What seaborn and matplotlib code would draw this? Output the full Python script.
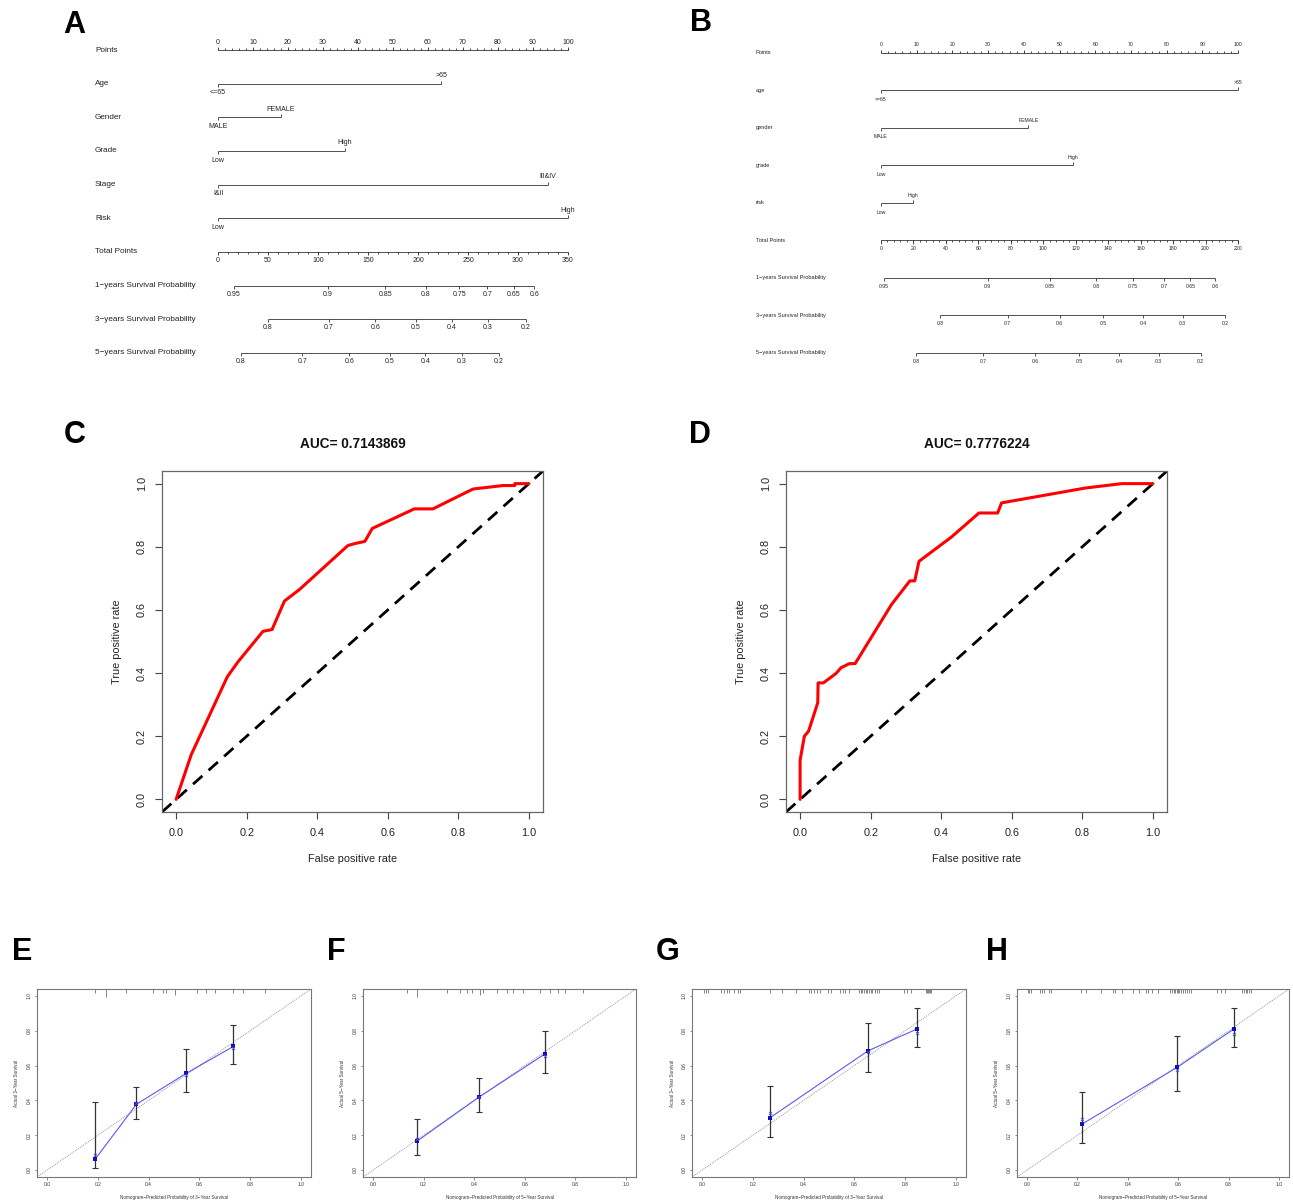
import numpy as np
import pandas as pd
import matplotlib
matplotlib.use("Agg")
import matplotlib.pyplot as plt
import seaborn as sns

W, H = 1293, 1201

# ---------------- DATA ----------------
# Nomogram A
a_vars = ["Age", "Gender", "Grade", "Stage", "Risk"]
a_low_labels = ["<=65", "MALE", "Low", "I&II", "Low"]
a_high_labels = [">65", "FEMALE", "High", "III&IV", "High"]
a_high_points = [63.8, 17.9, 36.3, 94.3, 100.0]
a_total_max = 350
a_total_ticks = [0, 50, 100, 150, 200, 250, 300, 350]
a_surv_names = ["1\u2212years Survival Probability", "3\u2212years Survival Probability",
                "5\u2212years Survival Probability"]
a_surv1_labels = ["0.95", "0.9", "0.85", "0.8", "0.75", "0.7", "0.65", "0.6"]
a_surv1_tp = [16.1, 110.1, 167.3, 208.0, 241.4, 269.4, 295.5, 316.2]
a_surv3_labels = ["0.8", "0.7", "0.6", "0.5", "0.4", "0.3", "0.2"]
a_surv3_tp = [49.5, 110.9, 157.3, 197.6, 234.1, 269.8, 307.8]
a_surv5_labels = ["0.8", "0.7", "0.6", "0.5", "0.4", "0.3", "0.2"]
a_surv5_tp = [23.0, 84.4, 131.2, 171.5, 207.2, 243.7, 280.9]

# Nomogram B
b_vars = ["age", "gender", "grade", "risk"]
b_low_labels = ["<=65", "MALE", "Low", "Low"]
b_high_labels = [">65", "FEMALE", "High", "High"]
b_high_points = [100.0, 41.3, 53.7, 9.1]
b_total_max = 220
b_total_ticks = [0, 20, 40, 60, 80, 100, 120, 140, 160, 180, 200, 220]
b_surv_names = ["1\u2212years Survival Probability", "3\u2212years Survival Probability",
                "5\u2212years Survival Probability"]
b_surv1_labels = ["0.95", "0.9", "0.85", "0.8", "0.75", "0.7", "0.65", "0.6"]
b_surv1_tp = [1.7, 65.7, 104.1, 132.5, 155.0, 174.5, 190.6, 205.8]
b_surv3_labels = ["0.8", "0.7", "0.6", "0.5", "0.4", "0.3", "0.2"]
b_surv3_tp = [36.5, 78.0, 110.0, 136.8, 161.7, 185.9, 211.9]
b_surv5_labels = ["0.8", "0.7", "0.6", "0.5", "0.4", "0.3", "0.2"]
b_surv5_tp = [21.6, 63.1, 95.1, 122.3, 146.7, 171.2, 197.0]

points_major = [0, 10, 20, 30, 40, 50, 60, 70, 80, 90, 100]

# ROC C
c_fpr = [0.0, 0.043, 0.145, 0.175, 0.246, 0.272, 0.307, 0.350, 0.487, 0.506, 0.535,
         0.556, 0.675, 0.728, 0.800, 0.842, 0.927, 0.960, 0.960, 1.0]
c_tpr = [0.0, 0.142, 0.388, 0.435, 0.532, 0.538, 0.628, 0.665, 0.804, 0.810, 0.817,
         0.858, 0.920, 0.920, 0.960, 0.983, 0.994, 0.994, 1.0, 1.0]
c_auc = "AUC= 0.7143869"
# ROC D
d_fpr = [0.0, 0.0, 0.012, 0.024, 0.050, 0.051, 0.066, 0.102, 0.116, 0.140, 0.156,
         0.259, 0.311, 0.325, 0.337, 0.429, 0.507, 0.560, 0.571, 0.808, 0.912, 1.0]
d_tpr = [0.0, 0.124, 0.200, 0.216, 0.306, 0.369, 0.369, 0.399, 0.417, 0.430, 0.430,
         0.617, 0.692, 0.692, 0.754, 0.831, 0.907, 0.907, 0.939, 0.986, 1.0, 1.0]
d_auc = "AUC= 0.7776224"
roc_ticks = [0.0, 0.2, 0.4, 0.6, 0.8, 1.0]
roc_tick_labels = ["0.0", "0.2", "0.4", "0.6", "0.8", "1.0"]

# Calibration E (3-year, training)
e_pred = [0.190, 0.352, 0.549, 0.734]
e_obs = [0.064, 0.378, 0.556, 0.710]
e_corr = [0.089, 0.385, 0.548, 0.700]
e_lo = [0.012, 0.295, 0.450, 0.608]
e_hi = [0.392, 0.475, 0.695, 0.832]
e_rug = [0.190, 0.233, 0.312, 0.418, 0.457, 0.470, 0.503, 0.589, 0.628, 0.661, 0.734, 0.773, 0.859]
e_rug_n = [1, 2, 1, 1, 1, 1, 1.5, 1, 1, 1, 1, 1, 1]
# Calibration F (5-year, training)
f_pred = [0.172, 0.417, 0.679]
f_obs = [0.164, 0.417, 0.666]
f_corr = [0.178, 0.420, 0.655]
f_lo = [0.089, 0.334, 0.560]
f_hi = [0.293, 0.531, 0.797]
f_rug = [0.135, 0.174, 0.292, 0.342, 0.371, 0.391, 0.421, 0.436, 0.489, 0.528, 0.554,
         0.594, 0.659, 0.699, 0.731, 0.758, 0.830]
f_rug_n = [1, 2, 1, 1, 1, 1, 1.5, 1, 1, 1, 1, 1, 1, 1, 1, 1, 1]
# Calibration G (3-year, validation)
g_pred = [0.268, 0.654, 0.848]
g_obs = [0.301, 0.685, 0.811]
g_corr = [0.330, 0.680, 0.788]
g_lo = [0.189, 0.562, 0.707]
g_hi = [0.485, 0.844, 0.931]
g_rug = [0.008, 0.017, 0.024, 0.074, 0.087, 0.096, 0.106, 0.127, 0.140, 0.149, 0.268, 0.314,
         0.369, 0.420, 0.430, 0.439, 0.453, 0.466, 0.496, 0.509, 0.545, 0.554, 0.565, 0.578,
         0.620, 0.626, 0.631, 0.637, 0.644, 0.650, 0.657, 0.664, 0.671, 0.680, 0.689, 0.697,
         0.796, 0.809, 0.822, 0.881, 0.885, 0.889, 0.893, 0.897, 0.901]
g_rug_n = [1] * 45
# Calibration H (5-year, validation)
h_pred = [0.217, 0.597, 0.822]
h_obs = [0.263, 0.591, 0.811]
h_corr = [0.292, 0.575, 0.782]
h_lo = [0.156, 0.452, 0.707]
h_hi = [0.450, 0.772, 0.931]
h_rug = [0.003, 0.009, 0.016, 0.052, 0.059, 0.069, 0.086, 0.095, 0.214, 0.234, 0.293, 0.340,
         0.350, 0.376, 0.419, 0.445, 0.472, 0.482, 0.498, 0.518, 0.567, 0.575, 0.583, 0.588,
         0.594, 0.599, 0.604, 0.611, 0.618, 0.626, 0.634, 0.642, 0.650, 0.756, 0.769, 0.786,
         0.855, 0.862, 0.868, 0.875, 0.882, 0.888]
h_rug_n = [1] * 42
calib_ticks = [0.0, 0.2, 0.4, 0.6, 0.8, 1.0]
calib_tick_labels = ["0.0", "0.2", "0.4", "0.6", "0.8", "1.0"]

# ---------------- STYLE ----------------
sns.set_theme(style="white")
plt.rcParams["font.family"] = ["Liberation Sans", "DejaVu Sans"]
plt.rcParams["text.color"] = "#111111"

fig = plt.figure(figsize=(W / 100, H / 100), dpi=100)
fig.patch.set_facecolor("white")


def px_rect(l, t, r, b):
    return [l / W, 1 - b / H, (r - l) / W, (b - t) / H]


LINE_C = "#333333"


def nomogram(x0, x1, y0, yN, var_names, lows, highs, high_pts, total_max, total_ticks,
             total_minor, surv_names, surv_labels, surv_tps, label_x_px, fs_lab, fs_tick, family):
    nvars = len(var_names)
    N = 1 + nvars + len(surv_names)
    ax = fig.add_axes(px_rect(x0, y0, x1, yN))
    ax.set_xlim(0, 100)
    ax.set_ylim(N, 0)
    ax.axis("off")
    sp = (yN - y0) / N
    ppx = 100 / (x1 - x0)

    def r(px):
        return px / sp

    lab_x = (label_x_px - x0) * ppx
    kw = dict(color=LINE_C, lw=0.6, clip_on=False)
    tkw = dict(fontsize=fs_tick, family=family, ha="center", va="center", clip_on=False,
               color="#222222")
    names = ["Points"] + list(var_names) + ["Total Points"] + list(surv_names)
    for i, nm in enumerate(names):
        ax.text(lab_x, i, nm, fontsize=fs_lab, family=family, ha="left", va="center",
                color="#222222")
    # Points scale
    ax.hlines(0, 0, 100, **kw)
    ax.vlines(points_major, 0, -r(3.2), **kw)
    ax.vlines(np.arange(0, 101, 2), 0, -r(2.0), **kw)
    for v in points_major:
        ax.text(v, -r(8), str(v), **tkw)
    # variables
    for k in range(nvars):
        i = 1 + k
        ax.hlines(i, 0, high_pts[k], **kw)
        ax.vlines(0, i, i + r(3), **kw)
        ax.vlines(high_pts[k], i, i - r(3), **kw)
        ax.text(0, i + r(9), lows[k], **tkw)
        ax.text(high_pts[k], i - r(8), highs[k], **tkw)
    # total points
    i = 1 + nvars
    scale = 100 / total_max
    ax.hlines(i, 0, 100, **kw)
    ax.vlines([t * scale for t in total_ticks], i, i + r(3.2), **kw)
    ax.vlines(np.arange(0, total_max + 1e-9, total_minor) * scale, i, i + r(2.0), **kw)
    for t in total_ticks:
        ax.text(t * scale, i + r(8.5), str(t), **tkw)
    # survival scales
    for k in range(len(surv_names)):
        i = 2 + nvars + k
        xs = [t * scale for t in surv_tps[k]]
        ax.hlines(i, min(xs), max(xs), **kw)
        ax.vlines(xs, i, i + r(3), **kw)
        for xv, lb in zip(xs, surv_labels[k]):
            ax.text(xv, i + r(8.5), lb, **tkw)
    return ax


nomogram(218, 568, 50, 353, a_vars, a_low_labels, a_high_labels, a_high_points,
         a_total_max, a_total_ticks, 10, a_surv_names,
         [a_surv1_labels, a_surv3_labels, a_surv5_labels], [a_surv1_tp, a_surv3_tp, a_surv5_tp],
         95, 5.9, 5.0, ["Liberation Sans", "DejaVu Sans"])

nomogram(881, 1238, 53, 353, b_vars, b_low_labels, b_high_labels, b_high_points,
         b_total_max, b_total_ticks, 4, b_surv_names,
         [b_surv1_labels, b_surv3_labels, b_surv5_labels], [b_surv1_tp, b_surv3_tp, b_surv5_tp],
         756, 4.1, 3.7, ["Liberation Sans Narrow", "Liberation Sans", "DejaVu Sans"])


def roc_panel(l, t, r, b, fpr, tpr, auc_text):
    ax = fig.add_axes(px_rect(l, t, r, b))
    df = pd.DataFrame({"fpr": fpr, "tpr": tpr})
    ax.axline((0, 0), (1, 1), color="black", lw=2.0, ls=(0, (4.5, 3.0)), zorder=2)
    sns.lineplot(data=df, x="fpr", y="tpr", sort=False, estimator=None, color="#ff0000",
                 linewidth=2.2, ax=ax, zorder=3)
    ax.set_xlim(-0.04, 1.04)
    ax.set_ylim(-0.04, 1.04)
    ax.set_xticks(roc_ticks)
    ax.set_xticklabels(roc_tick_labels)
    ax.set_yticks(roc_ticks)
    ax.set_yticklabels(roc_tick_labels, rotation=90, va="center")
    ax.tick_params(axis="both", direction="out", length=5, width=0.8, color="#444444",
                   labelsize=7.8, labelcolor="#222222", bottom=True, left=True)
    ax.tick_params(axis="x", pad=6.5)
    ax.tick_params(axis="y", pad=6.0)
    ax.set_xlabel("False positive rate", fontsize=7.8, color="#222222")
    ax.set_ylabel("True positive rate", fontsize=7.8, color="#222222")
    ax.xaxis.set_label_coords(0.5, -(859 - b) / (b - t))
    ax.xaxis.label.set_va("center")
    ax.yaxis.set_label_coords(-45 / (r - l), 0.5)
    ax.yaxis.label.set_va("center")
    ax.text(0.5, 1 + 27 / (b - t), auc_text, transform=ax.transAxes, ha="center", va="center",
            fontsize=9.8, fontweight="bold", color="#111111")
    for s in ax.spines.values():
        s.set_color("#666666")
        s.set_linewidth(0.9)
    return ax


roc_panel(162, 471, 543, 812, c_fpr, c_tpr, c_auc)
roc_panel(786, 471, 1167, 812, d_fpr, d_tpr, d_auc)


def calib_panel(l, t, r, b, pred, obs, corr, lo, hi, rug, rug_n, year):
    ax = fig.add_axes(px_rect(l, t, r, b))
    ax.set_xlim(-0.04, 1.04)
    ax.set_ylim(-0.04, 1.04)
    ax.axline((0, 0), (1, 1), color="#8a8a8a", lw=0.6, ls=(0, (1.2, 1.2)), zorder=1)
    obs_a = np.array(obs)
    ax.errorbar(pred, obs, yerr=[obs_a - np.array(lo), np.array(hi) - obs_a], fmt="none",
                ecolor="#333333", elinewidth=0.9, capsize=2.0, capthick=0.8, zorder=2)
    df = pd.DataFrame({"pred": pred, "obs": obs, "corr": corr})
    sns.lineplot(data=df, x="pred", y="obs", sort=False, estimator=None, color="#5a5af0",
                 linewidth=0.8, ax=ax, zorder=3)
    sns.scatterplot(data=df, x="pred", y="obs", marker="s", s=5, color="#1010c0",
                    linewidth=0, ax=ax, zorder=4)
    sns.scatterplot(data=df, x="pred", y="corr", marker="x", s=5, color="#5050e0",
                    linewidth=0.6, ax=ax, zorder=4)
    ax.vlines(rug, [1.04 - 0.022 * n for n in rug_n], 1.04, color="#555555", lw=0.5, zorder=2)
    ax.set_xticks(calib_ticks)
    ax.set_xticklabels(calib_tick_labels)
    ax.set_yticks(calib_ticks)
    ax.set_yticklabels(calib_tick_labels, rotation=90, va="center")
    ax.tick_params(axis="both", direction="out", length=1.8, width=0.5, color="#555555",
                   labelsize=3.5, labelcolor="#333333", bottom=True, left=True, pad=2.0)
    ax.set_xlabel("Nomogram\u2212Predicted Probability of %d\u2212Year Survival" % year,
                  fontsize=3.3, color="#333333")
    ax.set_ylabel("Actual %d\u2212Year Survival" % year, fontsize=3.3, color="#333333")
    ax.xaxis.set_label_coords(0.5, -20 / (b - t))
    ax.xaxis.label.set_va("center")
    ax.yaxis.set_label_coords(-20 / (r - l), 0.5)
    ax.yaxis.label.set_va("center")
    for s in ax.spines.values():
        s.set_color("#777777")
        s.set_linewidth(0.8)
    return ax


calib_panel(37, 989, 311, 1177, e_pred, e_obs, e_corr, e_lo, e_hi, e_rug, e_rug_n, 3)
calib_panel(363, 989, 636, 1177, f_pred, f_obs, f_corr, f_lo, f_hi, f_rug, f_rug_n, 5)
calib_panel(692, 989, 966, 1177, g_pred, g_obs, g_corr, g_lo, g_hi, g_rug, g_rug_n, 3)
calib_panel(1017, 989, 1289, 1177, h_pred, h_obs, h_corr, h_lo, h_hi, h_rug, h_rug_n, 5)

# Panel letters
for letter, (lx, ly) in zip("ABCDEFGH", [(74, 25), (701, 23), (75, 435), (700, 435),
                                        (22, 952), (336, 952), (668, 952), (997, 952)]):
    fig.text(lx / W, 1 - ly / H, letter, fontsize=22, fontweight="bold", ha="center",
             va="center", color="black")

fig.savefig("out.png", dpi=100, facecolor="white")
